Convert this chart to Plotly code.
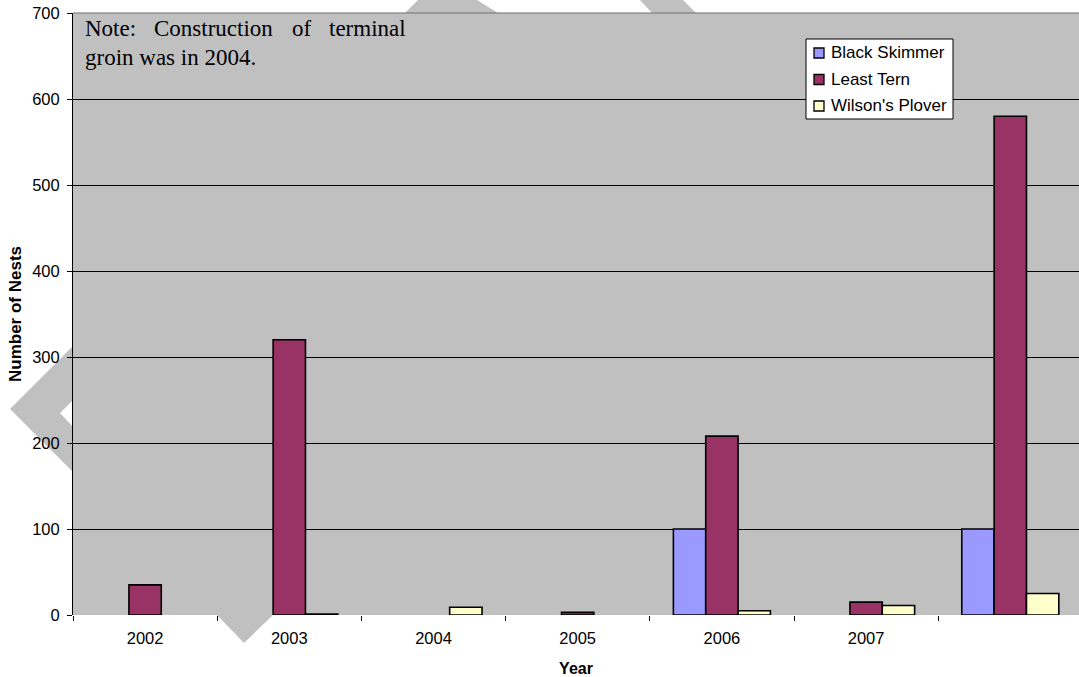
import plotly.graph_objects as go

# Nest counts per season
year_labels = ["2002", "2003", "2004", "2005", "2006", "2007", ""]
black_skimmer = [0, 0, 0, 0, 100, 0, 100]
least_tern = [35, 320, 0, 3, 208, 15, 580]
wilsons_plover = [0, 1, 9, 0, 5, 11, 25]

series_names = ["Black Skimmer", "Least Tern", "Wilson's Plover"]
series_colors = ["#9999FF", "#993366", "#FFFFCC"]

W, H = 1079, 677
ML, MR, MT, MB = 73, 0, 13, 62
PW, PH = W - ML - MR, H - MT - MB

SANS = "Liberation Sans, Arial, sans-serif"
SERIF = "Liberation Serif, Times New Roman, serif"


def px(x):
    return (x - ML) / PW


def py(y):
    return (H - MB - y) / PH


xpos = list(range(len(year_labels)))

fig = go.Figure()
for name, color, vals in zip(series_names, series_colors,
                             [black_skimmer, least_tern, wilsons_plover]):
    fig.add_trace(go.Bar(
        x=xpos, y=[v if v else None for v in vals], name=name,
        marker=dict(color=color, line=dict(color="black", width=1.6)),
        showlegend=False,
    ))


def poly(points, color="#C0C0C0"):
    d = "M " + " L ".join(f"{px(a):.5f},{py(b):.5f}" for a, b in points) + " Z"
    return dict(type="path", path=d, xref="paper", yref="paper",
                fillcolor=color, line=dict(width=0), layer="below")


# grey chevron fragments around the plot frame
shapes = [
    poly([(10, 409), (73, 346), (73, 400), (60, 413), (73, 427), (73, 472)]),
    poly([(217, 615), (273, 615), (244, 643)]),
    poly([(418, 0), (477, 0), (498, 13), (405, 13)]),
    poly([(640, 0), (683, 0), (696, 13), (652, 13)]),
]

# top frame edge in mid grey
shapes.append(dict(type="line", xref="paper", yref="paper", layer="above",
                   x0=0, x1=1, y0=1, y1=1, line=dict(color="#707070", width=1.2)))

annotations = []

# legend box with square swatches
LEG_X0, LEG_X1, LEG_Y0, LEG_Y1 = 806, 953, 39, 119
shapes.append(dict(type="rect", xref="paper", yref="paper", layer="above",
                   x0=px(LEG_X0), x1=px(LEG_X1), y0=py(LEG_Y1), y1=py(LEG_Y0),
                   fillcolor="white", line=dict(color="black", width=1)))
for i, (name, color) in enumerate(zip(series_names, series_colors)):
    cy = 53 + i * 26.5
    shapes.append(dict(type="rect", xref="paper", yref="paper", layer="above",
                       x0=px(814), x1=px(824), y0=py(cy + 5), y1=py(cy - 5),
                       fillcolor=color, line=dict(color="black", width=1.3)))
    annotations.append(dict(text=name, x=px(829), y=py(cy), xref="paper", yref="paper",
                            xanchor="left", yanchor="middle", showarrow=False,
                            font=dict(family=SANS, size=17, color="black")))

# justified note, first line spread word by word
note_words = [("Note:", 83), ("Construction", 152), ("of", 290), ("terminal", 327)]
for word, x0 in note_words:
    annotations.append(dict(text=word, x=px(x0), y=py(29), xref="paper", yref="paper",
                            xanchor="left", yanchor="middle", showarrow=False,
                            font=dict(family=SERIF, size=23, color="black")))
annotations.append(dict(text="groin was in 2004.", x=px(83), y=py(57), xref="paper",
                        yref="paper", xanchor="left", yanchor="middle", showarrow=False,
                        font=dict(family=SERIF, size=23, color="black")))

fig.update_layout(
    width=W, height=H,
    margin=dict(l=ML, r=MR, t=MT, b=MB),
    paper_bgcolor="white",
    plot_bgcolor="#C0C0C0",
    barmode="group",
    bargap=0.327,
    bargroupgap=0,
    font=dict(family=SANS, size=16.5, color="black"),
    shapes=shapes,
    annotations=annotations,
    showlegend=False,
    xaxis=dict(
        range=[-0.5, -0.5 + PW / 144.2],
        tickmode="array", tickvals=xpos[:-1], ticktext=year_labels[:-1],
        ticks="", showgrid=False, zeroline=False, showline=False,
        minor=dict(tickmode="linear", tick0=-0.5, dtick=1, ticks="outside",
                   ticklen=5, tickcolor="black", tickwidth=1, showgrid=False),
        ticklabelstandoff=11,
        title=dict(text="<b>Year</b>", font=dict(family=SANS, size=16), standoff=17),
    ),
    yaxis=dict(
        range=[0, 700], tickmode="linear", tick0=0, dtick=100,
        showgrid=True, gridcolor="black", gridwidth=1,
        zeroline=False, showline=True, linecolor="black", linewidth=1,
        ticks="outside", ticklen=5, tickcolor="black",
        ticklabelstandoff=4,
        title=dict(text="<b>Number of Nests</b>", font=dict(family=SANS, size=17),
                   standoff=6),
    ),
)

fig.write_html("out.html")
